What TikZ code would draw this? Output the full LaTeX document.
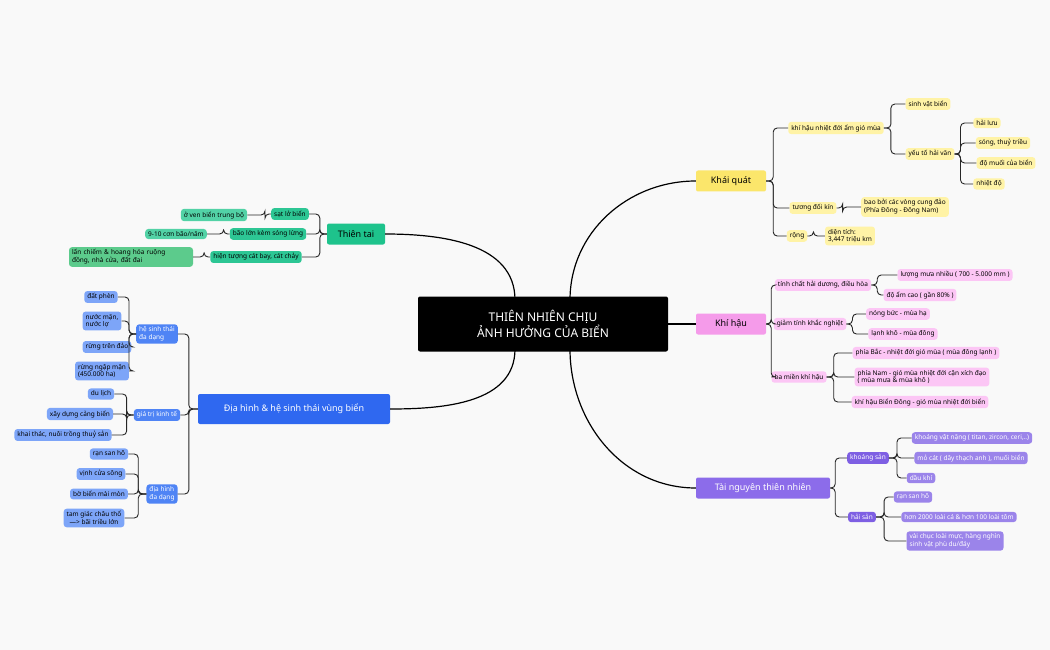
\documentclass[tikz,border=0pt]{standalone}
\usepackage{fontspec}
\setmainfont{Noto Sans}
\usetikzlibrary{calc}
\definecolor{bg}{HTML}{F9F9F9}
\definecolor{yM}{HTML}{FBE66B}\definecolor{yC}{HTML}{FFF3A6}
\definecolor{pM}{HTML}{F59BEA}\definecolor{pC}{HTML}{FCC6F5}
\definecolor{vM}{HTML}{8C6CEA}\definecolor{vC}{HTML}{7E5FE3}\definecolor{vL}{HTML}{9B84EA}
\definecolor{gM}{HTML}{1EC38C}\definecolor{gC}{HTML}{2DC694}\definecolor{gL}{HTML}{52D2A6}\definecolor{gL2}{HTML}{5CCB8C}
\definecolor{bM}{HTML}{2F68F0}\definecolor{bC}{HTML}{4F84F5}\definecolor{bL}{HTML}{7DA5F8}
\tikzset{
 b/.style={rounded corners=3pt,inner xsep=3pt,inner ysep=2.5pt,font=\fontsize{6.5}{7.8}\selectfont,align=left},
 main/.style={b,rounded corners=2pt,font=\bfseries\fontsize{9}{10}\selectfont,minimum height=21pt,inner xsep=8pt},
 link/.style={line width=0.9pt,black!85,rounded corners=4pt},
 big/.style={line width=1.2pt,black}}
\newcommand\myrl[3]{\draw[link] (#1.east) -- +(#3,0) |- (#2.west);}
\newcommand\myll[3]{\draw[link] (#1.west) -- +(-#3,0) |- (#2.east);}
\begin{document}
\begin{tikzpicture}[x=1pt,y=-1pt]
\fill[bg] (0,0) rectangle (1050,650);
\useasboundingbox (0,0) rectangle (1050,650);
\coordinate (c1) at (570,300);\coordinate (c2) at (570,349);\coordinate (c3) at (515,300);\coordinate (c4) at (515,349);\coordinate (c5) at (660,324);
\node[main,fill=yM,minimum width=70pt] (kq) at (731,181) {Khái quát};
\node[main,fill=pM,minimum width=70pt] (kh) at (731,324) {Khí hậu};
\node[main,fill=vM,text=white,minimum width=134pt] (tn) at (763,488) {Tài nguyên thiên nhiên};
\node[main,fill=gM,minimum width=58pt] (tt) at (356,234) {Thiên tai};
\node[main,fill=bM,text=white,minimum width=192pt,minimum height=30pt] (dh) at (294,409) {Địa hình \& hệ sinh thái vùng biển};
\draw[big] (c1) to[out=90,in=180] (kq.west);
\draw[big] (c5) -- (kh.west);
\draw[big] (c2) to[out=-90,in=180] (tn.west);
\draw[big] (c3) to[out=90,in=0] (tt.east);
\draw[big] (c4) to[out=-90,in=0] (dh.east);
\node[fill=black,rounded corners=2pt,minimum width=250pt,minimum height=55pt,text=white,align=center,font=\fontsize{12}{14}\selectfont] (c) at (543,324) {THIÊN NHIÊN CHỊU\\ẢNH HƯỞNG CỦA BIỂN};
% Khai quat
\node[b,fill=yC] (k1) at (836,128) {khí hậu nhiệt đới ẩm gió mùa};
\node[b,fill=yC] (k2) at (813,208) {tương đối kín};
\node[b,fill=yC] (k3) at (797,236) {rộng};
\node[b,fill=yC] (k11) at (928,104) {sinh vật biển};
\node[b,fill=yC] (k12) at (930,154) {yếu tố hải văn};
\node[b,fill=yC] (k121) at (987,123) {hải lưu};
\node[b,fill=yC] (k122) at (1003,143) {sóng, thuỷ triều};
\node[b,fill=yC] (k123) at (1006,163) {độ muối của biển};
\node[b,fill=yC] (k124) at (989,184) {nhiệt độ};
\node[b,fill=yC] (k21) at (905,207) {bao bởi các vòng cung đảo\\(Phía Đông - Đông Nam)};
\node[b,fill=yC] (k31) at (850,236) {diện tích:\\3,447 triệu km};
\myrl{kq}{k1}{7}\myrl{kq}{k2}{7}\myrl{kq}{k3}{7}
\myrl{k1}{k11}{7}\myrl{k1}{k12}{7}
\myrl{k12}{k121}{6}\myrl{k12}{k122}{6}\myrl{k12}{k123}{6}\myrl{k12}{k124}{6}
\myrl{k2}{k21}{6}\myrl{k3}{k31}{6}
% Khi hau
\node[b,fill=pC] (h1) at (823,285) {tính chất hải dương, điều hòa};
\node[b,fill=pC] (h2) at (810,324) {giảm tính khắc nghiệt};
\node[b,fill=pC] (h3) at (799,377) {ba miền khí hậu};
\node[b,fill=pC] (h11) at (955,275) {lượng mưa nhiều ( 700 - 5.000 mm )};
\node[b,fill=pC] (h12) at (920,295) {độ ẩm cao ( gần 80\% )};
\node[b,fill=pC] (h21) at (898,314) {nóng bức - mùa hạ};
\node[b,fill=pC] (h22) at (903,334) {lạnh khô - mùa đông};
\node[b,fill=pC] (h31) at (926,353) {phía Bắc - nhiệt đới gió mùa ( mùa đông lạnh )};
\node[b,fill=pC] (h32) at (922,377) {phía Nam - gió mùa nhiệt đới cận xích đạo\\( mùa mưa \& mùa khô )};
\node[b,fill=pC] (h33) at (920,402) {khí hậu Biển Đông - gió mùa nhiệt đới biển};
\myrl{kh}{h1}{5}\myrl{kh}{h2}{5}\myrl{kh}{h3}{5}
\myrl{h1}{h11}{6}\myrl{h1}{h12}{6}\myrl{h2}{h21}{6}\myrl{h2}{h22}{6}
\myrl{h3}{h31}{7}\myrl{h3}{h32}{7}\myrl{h3}{h33}{7}
% Tai nguyen
\node[b,fill=vC,text=white] (t1) at (868,458) {khoáng sản};
\node[b,fill=vC,text=white] (t2) at (862,517) {hải sản};
\node[b,fill=vL,text=white] (t11) at (972,438) {khoáng vật nặng ( titan, zircon, ceri,..)};
\node[b,fill=vL,text=white] (t12) at (971,458) {mỏ cát ( dây thạch anh ), muối biển};
\node[b,fill=vL,text=white] (t13) at (921,478) {dầu khí};
\node[b,fill=vL,text=white] (t21) at (913,497) {rạn san hô};
\node[b,fill=vL,text=white] (t22) at (959,517) {hơn 2000 loài cá \& hơn 100 loài tôm};
\node[b,fill=vL,text=white] (t23) at (955,541) {vài chục loài mực, hàng nghìn\\sinh vật phù du/đáy};
\myrl{tn}{t1}{5}\myrl{tn}{t2}{5}
\myrl{t1}{t11}{8}\myrl{t1}{t12}{8}\myrl{t1}{t13}{8}
\myrl{t2}{t21}{8}\myrl{t2}{t22}{8}\myrl{t2}{t23}{8}
% Thien tai
\node[b,fill=gC] (g1) at (290,214) {sạt lở biển};
\node[b,fill=gC] (g2) at (268,234) {bão lớn kèm sóng lừng};
\node[b,fill=gC] (g3) at (256,257) {hiện tượng cát bay, cát chảy};
\node[b,fill=gL] (g11) at (214,215) {ở ven biển trung bộ};
\node[b,fill=gL] (g21) at (176,234) {9-10 cơn bão/năm};
\node[b,fill=gL2,text width=118pt] (g31) at (131,257) {lấn chiếm \& hoang hóa ruộng\\đồng, nhà cửa, đất đai};
\myll{tt}{g1}{7}\myll{tt}{g2}{7}\myll{tt}{g3}{7}
\myll{g1}{g11}{6}\myll{g2}{g21}{6}\myll{g3}{g31}{6}
% Dia hinh
\node[b,fill=bC,text=white] (d1) at (157,334) {hệ sinh thái\\đa dạng};
\node[b,fill=bC,text=white] (d2) at (157,415) {giá trị kinh tế};
\node[b,fill=bC,text=white] (d3) at (162,494) {địa hình\\đa dạng};
\node[b,fill=bL] (d11) at (101,297) {đất phèn};
\node[b,fill=bL] (d12) at (102,321) {nước mặn,\\nước lợ};
\node[b,fill=bL] (d13) at (107,347) {rừng trên đảo};
\node[b,fill=bL] (d14) at (102,371) {rừng ngập mặn\\(450.000 ha)};
\node[b,fill=bL] (d21) at (101,394) {du lịch};
\node[b,fill=bL] (d22) at (80,414) {xây dựng cảng biển};
\node[b,fill=bL] (d23) at (63,435) {khai thác, nuôi trồng thuỷ sản};
\node[b,fill=bL] (d31) at (109,454) {rạn san hô};
\node[b,fill=bL] (d32) at (101,474) {vịnh cửa sông};
\node[b,fill=bL] (d33) at (99,494) {bờ biển mài mòn};
\node[b,fill=bL,align=center] (d34) at (94,518) {tam giác châu thổ\\—> bãi triều lớn};
\myll{dh}{d1}{9}\myll{dh}{d2}{9}\myll{dh}{d3}{9}
\myll{d1}{d11}{7}\myll{d1}{d12}{7}\myll{d1}{d13}{7}\myll{d1}{d14}{7}
\myll{d2}{d21}{7}\myll{d2}{d22}{7}\myll{d2}{d23}{7}
\myll{d3}{d31}{8}\myll{d3}{d32}{8}\myll{d3}{d33}{8}\myll{d3}{d34}{8}
\end{tikzpicture}
\end{document}
